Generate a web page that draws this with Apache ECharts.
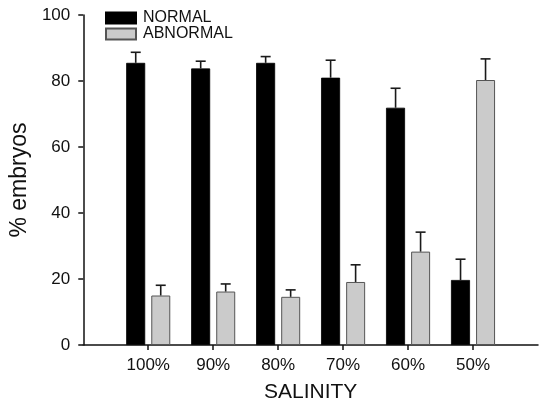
<!DOCTYPE html>
<html>
<head>
<meta charset="utf-8">
<script src="https://cdn.jsdelivr.net/npm/echarts@6/dist/echarts.min.js"></script>
<style>html,body{margin:0;padding:0;background:#fff;}#c{width:541px;height:409px;}</style>
</head>
<body>
<div id="c"></div>
<script>
const categories = ['100%', '90%', '80%', '70%', '60%', '50%'];
const normal = [85.5, 83.8, 85.5, 81.0, 71.9, 19.7];
const normalSD = [3.2, 2.2, 1.9, 5.3, 5.9, 6.3];
const abnormal = [15.0, 16.2, 14.6, 19.1, 28.3, 80.3];
const abnormalSD = [3.1, 2.3, 2.1, 5.2, 5.9, 6.4];
const yTicks = [0, 20, 40, 60, 80, 100];

const axisCats = [''].concat(categories, ['']);
const pad = arr => [null].concat(arr, [null]);

const BAR_W = 19;
const OFFSET = 12.5;
const FONT = 'Liberation Sans, Arial, sans-serif';

function errData(vals, sds) {
  return vals.map((v, i) => [i + 1, v, v + sds[i]]);
}
function errSeries(vals, sds, off) {
  return {
    type: 'custom',
    z: 5,
    silent: true,
    data: errData(vals, sds),
    encode: { x: 0, y: [1, 2] },
    renderItem: function (params, api) {
      const x = api.value(0);
      const base = api.coord([x, api.value(1)]);
      const top = api.coord([x, api.value(2)]);
      const cx = base[0] + off;
      const st = { stroke: '#1a1a1a', lineWidth: 1.6, fill: null };
      return {
        type: 'group',
        children: [
          { type: 'line', shape: { x1: cx, y1: base[1], x2: cx, y2: top[1] }, style: st },
          { type: 'line', shape: { x1: cx - 5, y1: top[1], x2: cx + 5, y2: top[1] }, style: st }
        ]
      };
    }
  };
}

const chart = echarts.init(document.getElementById('c'), null, { renderer: 'canvas' });
chart.setOption({
  animation: false,
  backgroundColor: '#fff',
  textStyle: { fontFamily: FONT },
  grid: { left: 81, right: 0, top: 15, bottom: 64, containLabel: false },
  legend: {
    data: ['NORMAL', 'ABNORMAL'],
    orient: 'vertical',
    left: 105,
    top: 10,
    padding: 0,
    itemWidth: 30,
    itemHeight: 11,
    itemGap: 0,
    icon: 'rect',
    textStyle: { fontFamily: FONT, fontSize: 16, color: '#111', padding: [0, 0, 0, 2] }
  },
  xAxis: {
    type: 'category',
    data: axisCats,
    boundaryGap: false,
    name: 'SALINITY',
    nameLocation: 'middle',
    nameGap: 37,
    nameTextStyle: { fontFamily: FONT, fontSize: 21, color: '#111' },
    axisLine: { lineStyle: { color: '#111', width: 1.5 } },
    axisTick: {
      show: true, length: 5, inside: false,
      interval: function (idx, val) { return val !== ''; },
      lineStyle: { color: '#111', width: 1.5 }
    },
    axisLabel: {
      interval: 0, margin: 12,
      fontFamily: FONT, fontSize: 17, color: '#111'
    },
    splitLine: { show: false }
  },
  yAxis: {
    type: 'value',
    min: 0, max: 100, interval: 20,
    name: '% embryos',
    nameLocation: 'middle',
    nameGap: 52,
    nameRotate: 90,
    nameTextStyle: { fontFamily: FONT, fontSize: 23, color: '#111' },
    axisLine: { show: true, lineStyle: { color: '#111', width: 1.5 } },
    axisTick: { show: true, length: 5, lineStyle: { color: '#111', width: 1.5 } },
    axisLabel: {
      margin: 13, fontFamily: FONT, fontSize: 17, color: '#111',
      formatter: function (v) { return yTicks.indexOf(v) >= 0 ? String(v) : ''; }
    },
    splitLine: { show: false }
  },
  series: [
    {
      name: 'NORMAL', type: 'bar', data: pad(normal),
      barWidth: BAR_W, barGap: '32%',
      itemStyle: { color: '#000', borderColor: '#000', borderWidth: 0.8 }
    },
    {
      name: 'ABNORMAL', type: 'bar', data: pad(abnormal),
      barWidth: BAR_W, barGap: '32%',
      itemStyle: { color: '#cbcbcb', borderColor: '#555', borderWidth: 1 }
    },
    errSeries(normal, normalSD, -OFFSET),
    errSeries(abnormal, abnormalSD, OFFSET)
  ]
});
</script>
</body>
</html>
